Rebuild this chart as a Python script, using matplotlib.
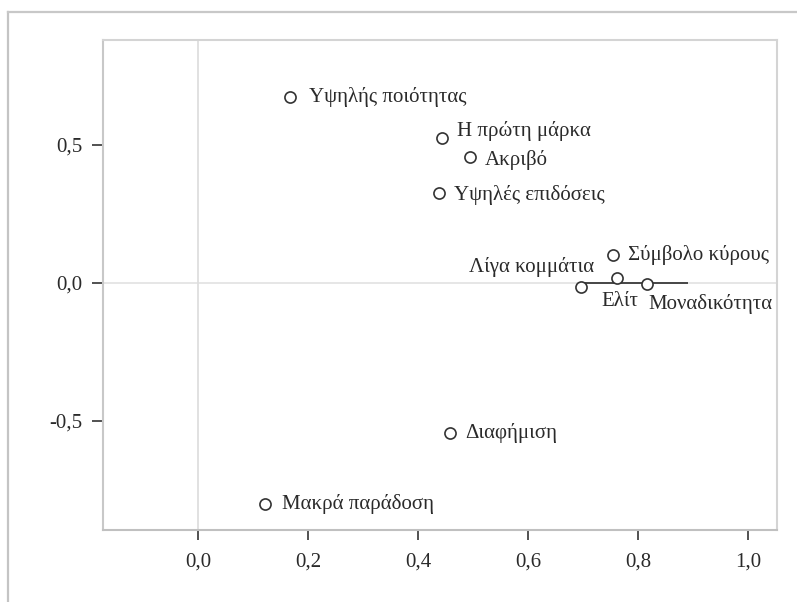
import matplotlib
matplotlib.use("Agg")
import matplotlib.pyplot as plt
from matplotlib.lines import Line2D
from matplotlib.ticker import FuncFormatter

# ---- data ----
labels = ["Υψηλής ποιότητας", "Η πρώτη μάρκα", "Ακριβό", "Υψηλές επιδόσεις",
          "Σύμβολο κύρους", "Ελίτ", "Λίγα κομμάτια", "Μοναδικότητα",
          "Διαφήμιση", "Μακρά παράδοση"]
dim1 = [0.167, 0.444, 0.495, 0.438, 0.755, 0.762, 0.696, 0.816, 0.458, 0.122]
dim2 = [0.674, 0.525, 0.457, 0.326, 0.101, 0.018, -0.014, -0.004, -0.543, -0.800]
xticks = [0.0, 0.2, 0.4, 0.6, 0.8, 1.0]
yticks = [-0.5, 0.0, 0.5]
connector_x = [0.696, 0.891]   # dark segment along the zero line

# label placement (offset in pixels, alignment)
offsets = [(19, 0, "left"), (15, 7, "left"), (15, -3, "left"), (15, -2, "left"),
           (15, 0, "left"), (3, -24, "center"), (13, 20, "right"), (2, -20, "left"),
           (15, 0, "left"), (17, 0, "left")]

plt.rcParams["font.family"] = ["Liberation Serif", "DejaVu Serif"]
TXT = "#2a2a2a"

fig = plt.figure(figsize=(7.97, 6.02), dpi=100)
ax = fig.add_axes([103/797, 1-530/602, (777-103)/797, (530-40)/602])

ax.set_xlim(-0.1727, 1.0527)
ax.set_ylim(-0.895, 0.880)

# reference lines
ax.axhline(0, color="#e4e4e4", lw=1.3, zorder=1)
ax.axvline(0, color="#dedede", lw=1.3, zorder=1)
ax.hlines(0, connector_x[0], connector_x[1], color="#3a3a3a", lw=1.3, zorder=2)

ax.plot(dim1, dim2, linestyle="none", marker="o", markersize=8,
        markerfacecolor="white", markeredgecolor="#333333", markeredgewidth=1.2, zorder=3)

px = 0.72  # points per pixel at 100 dpi
for lab, x, y, (dx, dy, ha) in zip(labels, dim1, dim2, offsets):
    ax.annotate(lab, (x, y), xytext=(dx*px, dy*px), textcoords="offset points",
                ha=ha, va="center", fontsize=15, color=TXT, zorder=4)

fmt = FuncFormatter(lambda v, p: f"{v:.1f}".replace(".", ","))
ax.set_xticks(xticks)
ax.set_yticks(yticks)
ax.xaxis.set_major_formatter(fmt)
ax.yaxis.set_major_formatter(fmt)
ax.tick_params(axis="both", labelsize=15, labelcolor=TXT, color="#333333",
               direction="out", width=1.2)
ax.tick_params(axis="x", length=7, pad=9)
ax.tick_params(axis="y", length=8, pad=7)

for s in ax.spines.values():
    s.set_color("#d4d4d4")
    s.set_linewidth(1.5)
ax.spines["left"].set_color("#c8c8c8")
ax.spines["bottom"].set_color("#c0c0c0")

# outer frame (left and top edges)
fig.add_artist(Line2D([8/797, 8/797], [0, 1-12/602], transform=fig.transFigure,
                      color="#c4c4c4", lw=1.6))
fig.add_artist(Line2D([8/797, 1], [1-12/602, 1-12/602], transform=fig.transFigure,
                      color="#c8c8c8", lw=1.6))

fig.savefig("out.png", dpi=100, facecolor="white")
